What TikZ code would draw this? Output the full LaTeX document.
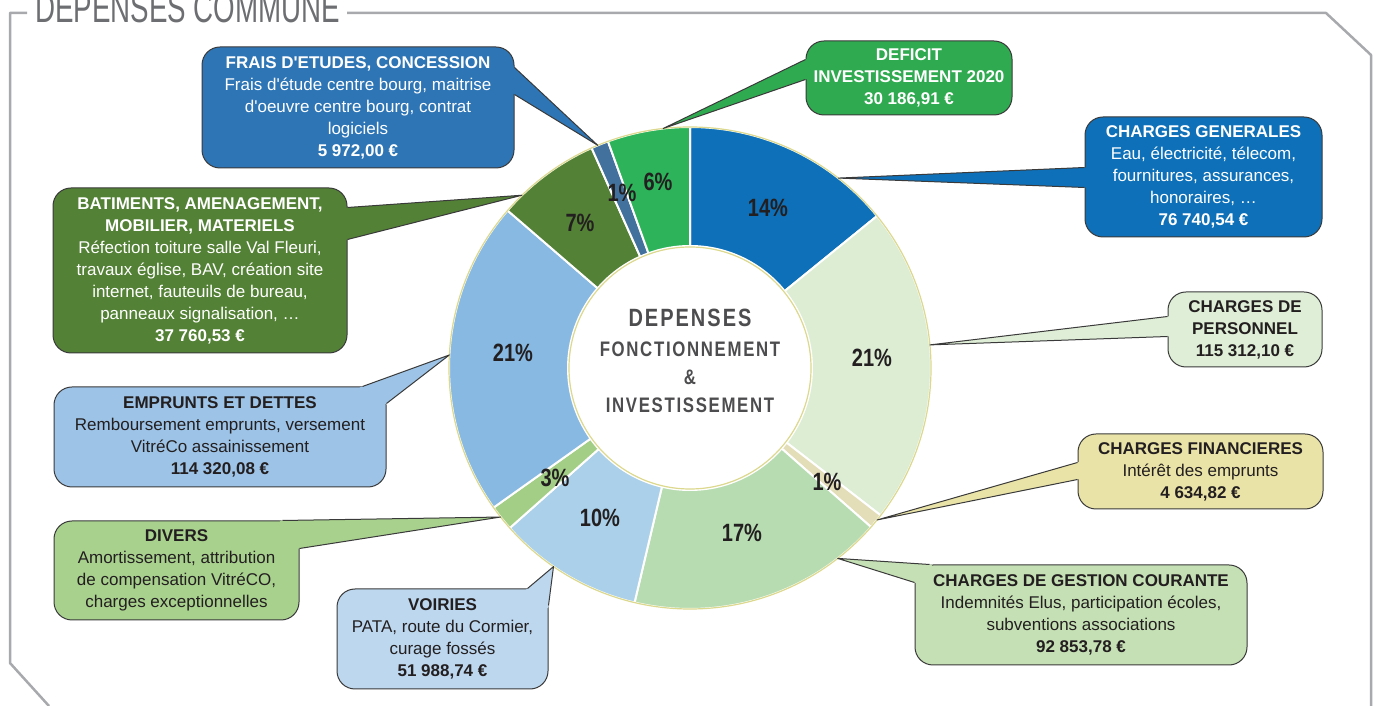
\documentclass[tikz,border=0pt]{standalone}
\usepackage{fontspec}
\setmainfont{Liberation Sans}
\newfontfamily\ttlfont{Liberation Sans}[FakeStretch=0.66]
\newfontfamily\pctfont{Liberation Sans}[FakeStretch=0.8]
\newfontfamily\ctrfont{Liberation Sans}[FakeStretch=0.8,LetterSpace=8]
\usetikzlibrary{calc}
\definecolor{cGen}{HTML}{0E70B8}
\definecolor{cPerS}{HTML}{DCEDD4}
\definecolor{cPerB}{HTML}{DFEED6}
\definecolor{cFinS}{HTML}{E3DDB8}
\definecolor{cFinB}{HTML}{EAE3A7}
\definecolor{cGesS}{HTML}{B7DCB1}
\definecolor{cGesB}{HTML}{C5E0B4}
\definecolor{cVoiS}{HTML}{ABD0E9}
\definecolor{cVoiB}{HTML}{BDD7EE}
\definecolor{cDivS}{HTML}{A2CE86}
\definecolor{cDivB}{HTML}{A9D18E}
\definecolor{cEmpS}{HTML}{87B9E2}
\definecolor{cEmpB}{HTML}{9DC3E6}
\definecolor{cBat}{HTML}{538135}
\definecolor{cFraS}{HTML}{41719C}
\definecolor{cFraB}{HTML}{2E75B6}
\definecolor{cDefS}{HTML}{2DB35A}
\definecolor{cDefB}{HTML}{2FAA50}
\definecolor{bordergray}{HTML}{3A3A3A}
\definecolor{textdark}{HTML}{231F20}
\definecolor{titlegray}{HTML}{6D6E71}
\definecolor{framegray}{HTML}{A7A9AC}
\definecolor{ctrgray}{HTML}{4D4D4F}
\definecolor{ringedge}{HTML}{DCD88E}
\begin{document}
\begin{tikzpicture}[x=1pt,y=1pt,line join=round,
	box/.style={rounded corners=18pt,draw=bordergray,line width=1pt,inner sep=0pt,align=center,font=\fontsize{17}{22}\selectfont,text=textdark},
	tail/.style={draw=bordergray,line width=1pt},
	slice/.style={draw=white,line width=2pt},
	pct/.style={font=\pctfont\bfseries\fontsize{25}{25}\selectfont,text=textdark,inner sep=0pt},
	ctr/.style={anchor=base,inner sep=0pt,text=ctrgray}]
	\useasboundingbox (0,0) rectangle (1375,706);
	\draw[framegray,line width=2.5pt] (27,693) -- (10,693) -- (10,43) -- (49,0);
	\draw[framegray,line width=2.5pt] (347,693) -- (1326,693) -- (1371,651) -- (1371,0);
	\node[anchor=base west,inner sep=0pt,font=\ttlfont\fontsize{42}{42}\selectfont,text=titlegray] (ttl) at (35,683) {DEPENSES COMMUNE};
	\coordinate (O) at (690,338);
	\begin{scope}[shift={(O)}]
		\fill[cGen,slice] (90:241) arc (90:39.1:241) -- (39.1:122) arc (39.1:90:122) -- cycle;
		\fill[cPerS,slice] (39.1:241) arc (39.1:-37.7:241) -- (-37.7:122) arc (-37.7:39.1:122) -- cycle;
		\fill[cFinS,slice] (-37.7:241) arc (-37.7:-41.3:241) -- (-41.3:122) arc (-41.3:-37.7:122) -- cycle;
		\fill[cGesS,slice] (-41.3:241) arc (-41.3:-103.3:241) -- (-103.3:122) arc (-103.3:-41.3:122) -- cycle;
		\fill[cVoiS,slice] (-103.3:241) arc (-103.3:-138.4:241) -- (-138.4:122) arc (-138.4:-103.3:122) -- cycle;
		\fill[cDivS,slice] (-138.4:241) arc (-138.4:-144.6:241) -- (-144.6:122) arc (-144.6:-138.4:122) -- cycle;
		\fill[cEmpS,slice] (-144.6:241) arc (-144.6:-220.8:241) -- (-220.8:122) arc (-220.8:-144.6:122) -- cycle;
		\fill[cBat,slice] (-220.8:241) arc (-220.8:-245.9:241) -- (-245.9:122) arc (-245.9:-220.8:122) -- cycle;
		\fill[cFraS,slice] (-245.9:241) arc (-245.9:-250.1:241) -- (-250.1:122) arc (-250.1:-245.9:122) -- cycle;
		\fill[cDefS,slice] (-250.1:241) arc (-250.1:-270:241) -- (-270:122) arc (-270:-250.1:122) -- cycle;
		\draw[ringedge,line width=1.2pt] (0,0) circle (241);
		\draw[ringedge,line width=1.2pt] (0,0) circle (121);
	\end{scope}
	\node[pct] (pGen) at (768,498) {14\%};
	\node[pct] (pPer) at (872,348) {21\%};
	\node[pct] (pFin) at (827,224) {1\%};
	\node[pct] (pGes) at (742,173) {17\%};
	\node[pct] (pVoi) at (600,188) {10\%};
	\node[pct] (pDiv) at (555,228) {3\%};
	\node[pct] (pEmp) at (513,353) {21\%};
	\node[pct] (pBat) at (580,483) {7\%};
	\node[pct] (pFra) at (622,513) {1\%};
	\node[pct] (pDef) at (658,524) {6\%};
	\node[ctr,font=\ctrfont\bfseries\fontsize{25}{25}\selectfont] (c1) at (690,379) {DEPENSES};
	\node[ctr,font=\ctrfont\bfseries\fontsize{21}{21}\selectfont] (c2) at (690,349) {FONCTIONNEMENT};
	\node[ctr,font=\ctrfont\bfseries\fontsize{21}{21}\selectfont] (c3) at (690,321) {\&};
	\node[ctr,font=\ctrfont\bfseries\fontsize{21}{21}\selectfont] (c4) at (690,293) {INVESTISSEMENT};
	\coordinate (tFra) at ($(O)+(112.5:241)$);
	\coordinate (tDef) at ($(O)+(96.4:241)$);
	\coordinate (tGen) at ($(O)+(52:241)$);
	\coordinate (tPer) at ($(O)+(5.5:241)$);
	\coordinate (tFin) at ($(O)+(-39.1:241)$);
	\coordinate (tGes) at ($(O)+(-52.2:241)$);
	\coordinate (tVoi) at ($(O)+(235.5:241)$);
	\coordinate (tDiv) at ($(O)+(218.2:241)$);
	\coordinate (tEmp) at ($(O)+(176.9:241)$);
	\coordinate (tBat) at ($(O)+(134.2:241)$);
	\node[box,fill=cFraB,text=white,minimum width=312pt,minimum height=121pt] (fra) at (358,598.5) {\textbf{FRAIS D\textquotesingle ETUDES, CONCESSION}\\Frais d\textquotesingle étude centre bourg, maitrise\\d\textquotesingle oeuvre centre bourg, contrat\\logiciels\\\textbf{5 972,00 €}};
	\coordinate (fra1) at ($(fra.north east)+(0,-21)$);
	\coordinate (fra2) at ($(fra.north east)+(0,-48)$);
	\fill[cFraB] ($(fra1)!-3pt!(tFra)$) -- (tFra) -- ($(fra2)!-3pt!(tFra)$) -- cycle;
	\draw[tail] (fra1) -- (tFra) -- (fra2);
	\node[box,fill=cDefB,text=white,minimum width=206pt,minimum height=74pt] (def) at (909,628) {\textbf{DEFICIT}\\\textbf{INVESTISSEMENT 2020}\\\textbf{30 186,91 €}};
	\coordinate (def1) at ($(def.north west)+(0,-19)$);
	\coordinate (def2) at ($(def.north west)+(0,-39)$);
	\fill[cDefB] ($(def1)!-3pt!(tDef)$) -- (tDef) -- ($(def2)!-3pt!(tDef)$) -- cycle;
	\draw[tail] (def1) -- (tDef) -- (def2);
	\node[box,fill=cGen,text=white,minimum width=237pt,minimum height=120pt] (gen) at (1203.5,529) {\textbf{CHARGES GENERALES}\\Eau, électricité, télecom,\\fournitures, assurances,\\honoraires, …\\\textbf{76 740,54 €}};
	\coordinate (gen1) at ($(gen.north west)+(0,-51)$);
	\coordinate (gen2) at ($(gen.north west)+(0,-71)$);
	\fill[cGen] ($(gen1)!-3pt!(tGen)$) -- (tGen) -- ($(gen2)!-3pt!(tGen)$) -- cycle;
	\draw[tail] (gen1) -- (tGen) -- (gen2);
	\node[box,fill=cPerB,minimum width=154pt,minimum height=75pt] (per) at (1245,376.5) {\textbf{CHARGES DE}\\\textbf{PERSONNEL}\\\textbf{115 312,10 €}};
	\coordinate (per1) at ($(per.north west)+(0,-25)$);
	\coordinate (per2) at ($(per.north west)+(0,-45)$);
	\fill[cPerB] ($(per1)!-3pt!(tPer)$) -- (tPer) -- ($(per2)!-3pt!(tPer)$) -- cycle;
	\draw[tail] (per1) -- (tPer) -- (per2);
	\node[box,fill=cFinB,minimum width=245pt,minimum height=75pt] (fin) at (1200.5,234.5) {\textbf{CHARGES FINANCIERES}\\Intérêt des emprunts\\\textbf{4 634,82 €}};
	\coordinate (fin1) at ($(fin.north west)+(0,-29)$);
	\coordinate (fin2) at ($(fin.north west)+(0,-46)$);
	\fill[cFinB] ($(fin1)!-3pt!(tFin)$) -- (tFin) -- ($(fin2)!-3pt!(tFin)$) -- cycle;
	\draw[tail] (fin1) -- (tFin) -- (fin2);
	\node[box,fill=cGesB,minimum width=332pt,minimum height=100pt] (ges) at (1081,91) {\textbf{CHARGES DE GESTION COURANTE}\\Indemnités Elus, participation écoles,\\subventions associations\\\textbf{92 853,78 €}};
	\coordinate (ges1) at ($(ges.north west)+(15,0)$);
	\coordinate (ges2) at ($(ges.north west)+(0,-18)$);
	\fill[cGesB] ($(ges1)!-3pt!(tGes)$) -- (tGes) -- ($(ges2)!-3pt!(tGes)$) -- cycle;
	\draw[tail] (ges1) -- (tGes) -- (ges2);
	\node[box,fill=cVoiB,minimum width=211pt,minimum height=100pt] (voi) at (442.5,67) {\textbf{VOIRIES}\\PATA, route du Cormier,\\curage fossés\\\textbf{51 988,74 €}};
	\coordinate (voi1) at ($(voi.north east)+(-21,0)$);
	\coordinate (voi2) at ($(voi.north east)+(0,-17)$);
	\fill[cVoiB] ($(voi1)!-3pt!(tVoi)$) -- (tVoi) -- ($(voi2)!-3pt!(tVoi)$) -- cycle;
	\draw[tail] (voi1) -- (tVoi) -- (voi2);
	\node[box,fill=cDivB,minimum width=245pt,minimum height=99pt] (div) at (176.5,135.5) {\textbf{DIVERS}\\Amortissement, attribution\\de compensation VitréCO,\\charges exceptionnelles};
	\coordinate (div1) at ($(div.north east)+(-17,0)$);
	\coordinate (div2) at ($(div.north east)+(0,-28)$);
	\fill[cDivB] ($(div1)!-3pt!(tDiv)$) -- (tDiv) -- ($(div2)!-3pt!(tDiv)$) -- cycle;
	\draw[tail] (div1) -- (tDiv) -- (div2);
	\node[box,fill=cEmpB,minimum width=332pt,minimum height=100pt] (emp) at (220,269) {\textbf{EMPRUNTS ET DETTES}\\Remboursement emprunts, versement\\VitréCo assainissement\\\textbf{114 320,08 €}};
	\coordinate (emp1) at ($(emp.north east)+(-24,0)$);
	\coordinate (emp2) at ($(emp.north east)+(0,-17)$);
	\fill[cEmpB] ($(emp1)!-3pt!(tEmp)$) -- (tEmp) -- ($(emp2)!-3pt!(tEmp)$) -- cycle;
	\draw[tail] (emp1) -- (tEmp) -- (emp2);
	\node[box,fill=cBat,text=white,minimum width=294pt,minimum height=165pt] (bat) at (200,435.5) {\textbf{BATIMENTS, AMENAGEMENT,}\\\textbf{MOBILIER, MATERIELS}\\Réfection toiture salle Val Fleuri,\\travaux église, BAV, création site\\internet, fauteuils de bureau,\\panneaux signalisation, …\\\textbf{37 760,53 €}};
	\coordinate (bat1) at ($(bat.north east)+(0,-20)$);
	\coordinate (bat2) at ($(bat.north east)+(0,-52)$);
	\fill[cBat] ($(bat1)!-3pt!(tBat)$) -- (tBat) -- ($(bat2)!-3pt!(tBat)$) -- cycle;
	\draw[tail] (bat1) -- (tBat) -- (bat2);
\end{tikzpicture}
\end{document}
